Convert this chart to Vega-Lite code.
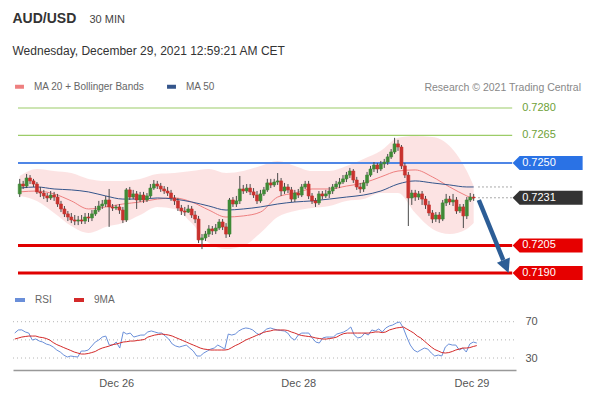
{
 "$schema": "https://vega.github.io/schema/vega-lite/v6.json",
 "background": "white",
 "padding": {"left": 12, "top": 12, "right": 4, "bottom": 6},
 "config": {"font": "Liberation Sans", "view": {"stroke": null}},
 "title": {"text": "30 MIN", "anchor": "start", "dx": 77, "offset": -13, "fontSize": 11, "fontWeight": "normal", "color": "#444444"},
 "datasets": {
  "candles": [
   {"i":0,"o":0.72331,"c":0.72385,"h":0.72413,"l":0.72314,"r":57.5,"m":50.9},
   {"i":1,"o":0.72385,"c":0.72374,"h":0.72402,"l":0.72358,"r":60.9,"m":52},
   {"i":2,"o":0.72374,"c":0.72418,"h":0.7244,"l":0.72363,"r":61,"m":53.1},
   {"i":3,"o":0.72418,"c":0.72402,"h":0.72434,"l":0.72385,"r":58.7,"m":53.7},
   {"i":4,"o":0.72402,"c":0.72385,"h":0.72413,"l":0.72369,"r":57.5,"m":54.2},
   {"i":5,"o":0.72385,"c":0.72342,"h":0.72396,"l":0.72331,"r":49.8,"m":54.2},
   {"i":6,"o":0.72342,"c":0.72336,"h":0.72369,"l":0.72314,"r":51,"m":54.2},
   {"i":7,"o":0.72336,"c":0.7232,"h":0.72353,"l":0.72303,"r":48.7,"m":53},
   {"i":8,"o":0.7232,"c":0.72309,"h":0.72336,"l":0.72287,"r":47.6,"m":52.5},
   {"i":9,"o":0.72309,"c":0.72325,"h":0.72347,"l":0.72298,"r":45.4,"m":51.5},
   {"i":10,"o":0.72325,"c":0.72314,"h":0.72342,"l":0.72293,"r":44.3,"m":49.8},
   {"i":11,"o":0.72314,"c":0.72276,"h":0.72331,"l":0.7226,"r":42.1,"m":47},
   {"i":12,"o":0.72276,"c":0.72249,"h":0.72293,"l":0.72232,"r":38.8,"m":44.8},
   {"i":13,"o":0.72249,"c":0.72222,"h":0.72265,"l":0.72205,"r":36.6,"m":43.2},
   {"i":14,"o":0.72222,"c":0.72205,"h":0.72238,"l":0.72183,"r":33.3,"m":41.5},
   {"i":15,"o":0.72205,"c":0.72189,"h":0.72227,"l":0.72172,"r":31.1,"m":39.9},
   {"i":16,"o":0.72189,"c":0.72183,"h":0.72216,"l":0.72161,"r":32.2,"m":38.3},
   {"i":17,"o":0.72183,"c":0.72189,"h":0.72211,"l":0.72161,"r":31.6,"m":36.6},
   {"i":18,"o":0.72189,"c":0.72183,"h":0.72216,"l":0.72167,"r":31.1,"m":35.5},
   {"i":19,"o":0.72183,"c":0.72205,"h":0.72227,"l":0.72167,"r":37.7,"m":34.4},
   {"i":20,"o":0.72205,"c":0.722,"h":0.72227,"l":0.72178,"r":37.7,"m":34.4},
   {"i":21,"o":0.722,"c":0.72222,"h":0.72243,"l":0.72183,"r":38.8,"m":35},
   {"i":22,"o":0.72222,"c":0.72243,"h":0.72265,"l":0.72211,"r":43.2,"m":36},
   {"i":23,"o":0.72243,"c":0.72265,"h":0.72293,"l":0.72232,"r":47.6,"m":37.2},
   {"i":24,"o":0.72265,"c":0.72276,"h":0.72298,"l":0.72249,"r":49.8,"m":39.4},
   {"i":25,"o":0.72276,"c":0.72298,"h":0.7232,"l":0.7226,"r":53.1,"m":41},
   {"i":26,"o":0.72298,"c":0.7226,"h":0.72358,"l":0.72151,"r":54.2,"m":42.1},
   {"i":27,"o":0.7226,"c":0.72254,"h":0.72276,"l":0.72238,"r":44.3,"m":43.2},
   {"i":28,"o":0.72254,"c":0.7226,"h":0.72271,"l":0.72243,"r":44.3,"m":44.8},
   {"i":29,"o":0.7226,"c":0.72243,"h":0.72276,"l":0.72222,"r":47.6,"m":45.4},
   {"i":30,"o":0.72243,"c":0.72189,"h":0.7226,"l":0.72172,"r":41,"m":46.5},
   {"i":31,"o":0.72189,"c":0.72353,"h":0.72363,"l":0.72178,"r":58.7,"m":47.6},
   {"i":32,"o":0.72353,"c":0.72314,"h":0.72369,"l":0.72298,"r":56.4,"m":48},
   {"i":33,"o":0.72314,"c":0.72331,"h":0.72353,"l":0.72303,"r":57.5,"m":48.7},
   {"i":34,"o":0.72331,"c":0.72298,"h":0.72347,"l":0.72249,"r":53.1,"m":48.7},
   {"i":35,"o":0.72298,"c":0.72325,"h":0.72342,"l":0.72287,"r":54.2,"m":49.3},
   {"i":36,"o":0.72325,"c":0.72298,"h":0.72342,"l":0.72282,"r":55.3,"m":49.8},
   {"i":37,"o":0.72298,"c":0.7232,"h":0.72336,"l":0.72287,"r":55.3,"m":50.4},
   {"i":38,"o":0.7232,"c":0.72363,"h":0.72385,"l":0.72309,"r":58.7,"m":53},
   {"i":39,"o":0.72363,"c":0.72385,"h":0.72407,"l":0.72353,"r":59.8,"m":54.2},
   {"i":40,"o":0.72385,"c":0.72374,"h":0.72402,"l":0.72358,"r":58.7,"m":55.3},
   {"i":41,"o":0.72374,"c":0.72358,"h":0.72391,"l":0.72342,"r":57.5,"m":55.9},
   {"i":42,"o":0.72358,"c":0.72347,"h":0.72374,"l":0.72331,"r":57.5,"m":56.4},
   {"i":43,"o":0.72347,"c":0.72336,"h":0.72369,"l":0.7232,"r":54.2,"m":55.9},
   {"i":44,"o":0.72336,"c":0.72309,"h":0.72353,"l":0.72293,"r":50.9,"m":55.3},
   {"i":45,"o":0.72309,"c":0.72293,"h":0.72325,"l":0.72271,"r":45.4,"m":54.2},
   {"i":46,"o":0.72293,"c":0.72254,"h":0.72309,"l":0.72238,"r":43.2,"m":52.5},
   {"i":47,"o":0.72254,"c":0.72238,"h":0.72271,"l":0.72216,"r":42.1,"m":50.9},
   {"i":48,"o":0.72238,"c":0.72232,"h":0.7226,"l":0.72211,"r":43.2,"m":49.3},
   {"i":49,"o":0.72232,"c":0.72249,"h":0.72271,"l":0.72227,"r":44.3,"m":47.6},
   {"i":50,"o":0.72249,"c":0.72216,"h":0.72265,"l":0.722,"r":41,"m":45.9},
   {"i":51,"o":0.72216,"c":0.72194,"h":0.72238,"l":0.72172,"r":37.7,"m":44.3},
   {"i":52,"o":0.72194,"c":0.7208,"h":0.72211,"l":0.72063,"r":32.2,"m":42.7},
   {"i":53,"o":0.7208,"c":0.72091,"h":0.72112,"l":0.7203,"r":32.2,"m":41},
   {"i":54,"o":0.72091,"c":0.72112,"h":0.72129,"l":0.72074,"r":35.5,"m":39.9},
   {"i":55,"o":0.72112,"c":0.7214,"h":0.72161,"l":0.72096,"r":37.7,"m":39.4},
   {"i":56,"o":0.7214,"c":0.72129,"h":0.72156,"l":0.72107,"r":39.9,"m":38.8},
   {"i":57,"o":0.72129,"c":0.72145,"h":0.72167,"l":0.72112,"r":41,"m":38.8},
   {"i":58,"o":0.72145,"c":0.72178,"h":0.72194,"l":0.72134,"r":44.3,"m":38.8},
   {"i":59,"o":0.72178,"c":0.72151,"h":0.72194,"l":0.72134,"r":42.1,"m":38.8},
   {"i":60,"o":0.72151,"c":0.72112,"h":0.72172,"l":0.72091,"r":39.9,"m":38.8},
   {"i":61,"o":0.72112,"c":0.72298,"h":0.72309,"l":0.72096,"r":56.4,"m":39.4},
   {"i":62,"o":0.72298,"c":0.72276,"h":0.72314,"l":0.7226,"r":55.3,"m":41.5},
   {"i":63,"o":0.72276,"c":0.72293,"h":0.7232,"l":0.7226,"r":56.4,"m":43.7},
   {"i":64,"o":0.72293,"c":0.72358,"h":0.72429,"l":0.72276,"r":59.8,"m":45.4},
   {"i":65,"o":0.72358,"c":0.72347,"h":0.7238,"l":0.72331,"r":62,"m":47.6},
   {"i":66,"o":0.72347,"c":0.72363,"h":0.72385,"l":0.72336,"r":63.1,"m":49.8},
   {"i":67,"o":0.72363,"c":0.72342,"h":0.72385,"l":0.72325,"r":62.5,"m":51.5},
   {"i":68,"o":0.72342,"c":0.72325,"h":0.72363,"l":0.72309,"r":60.9,"m":53.1},
   {"i":69,"o":0.72325,"c":0.72293,"h":0.72347,"l":0.72276,"r":57.5,"m":54.8},
   {"i":70,"o":0.72293,"c":0.72331,"h":0.72353,"l":0.72282,"r":55.3,"m":56.4},
   {"i":71,"o":0.72331,"c":0.72353,"h":0.72369,"l":0.7232,"r":58.7,"m":58.1},
   {"i":72,"o":0.72353,"c":0.72391,"h":0.72413,"l":0.72342,"r":62,"m":59.2},
   {"i":73,"o":0.72391,"c":0.7238,"h":0.72413,"l":0.72363,"r":63.1,"m":59.8},
   {"i":74,"o":0.7238,"c":0.72396,"h":0.72413,"l":0.72369,"r":62,"m":60.9},
   {"i":75,"o":0.72396,"c":0.72402,"h":0.72445,"l":0.7238,"r":60.9,"m":60.9},
   {"i":76,"o":0.72402,"c":0.72347,"h":0.72418,"l":0.7232,"r":60.3,"m":60.9},
   {"i":77,"o":0.72347,"c":0.72369,"h":0.72391,"l":0.72331,"r":59.8,"m":60.9},
   {"i":78,"o":0.72369,"c":0.72353,"h":0.72385,"l":0.72336,"r":57.5,"m":60.3},
   {"i":79,"o":0.72353,"c":0.72303,"h":0.72369,"l":0.72287,"r":52.1,"m":58.7},
   {"i":80,"o":0.72303,"c":0.72336,"h":0.72353,"l":0.72287,"r":49.8,"m":57.5},
   {"i":81,"o":0.72336,"c":0.72325,"h":0.72358,"l":0.72309,"r":55.3,"m":55.9},
   {"i":82,"o":0.72325,"c":0.72369,"h":0.72385,"l":0.72314,"r":57.5,"m":54.8},
   {"i":83,"o":0.72369,"c":0.72385,"h":0.72402,"l":0.72358,"r":57.5,"m":54.2},
   {"i":84,"o":0.72385,"c":0.7232,"h":0.72402,"l":0.72303,"r":57.5,"m":53.7},
   {"i":85,"o":0.7232,"c":0.72293,"h":0.72336,"l":0.72276,"r":52.1,"m":53.1},
   {"i":86,"o":0.72293,"c":0.72282,"h":0.72309,"l":0.7226,"r":47.6,"m":52.1},
   {"i":87,"o":0.72282,"c":0.72331,"h":0.72347,"l":0.72271,"r":46.5,"m":51.5},
   {"i":88,"o":0.72331,"c":0.7232,"h":0.72347,"l":0.72303,"r":52.1,"m":50.9},
   {"i":89,"o":0.7232,"c":0.72331,"h":0.72353,"l":0.72309,"r":53.1,"m":50.9},
   {"i":90,"o":0.72331,"c":0.72347,"h":0.72369,"l":0.72309,"r":53.1,"m":51.5},
   {"i":91,"o":0.72347,"c":0.72369,"h":0.72385,"l":0.72331,"r":53.1,"m":52.1},
   {"i":92,"o":0.72369,"c":0.72385,"h":0.72402,"l":0.72358,"r":56.4,"m":53.1},
   {"i":93,"o":0.72385,"c":0.72396,"h":0.72418,"l":0.72363,"r":57.5,"m":55.3},
   {"i":94,"o":0.72396,"c":0.72413,"h":0.72434,"l":0.72385,"r":58.7,"m":56.9},
   {"i":95,"o":0.72413,"c":0.72434,"h":0.72451,"l":0.72396,"r":60.9,"m":57.5},
   {"i":96,"o":0.72434,"c":0.72456,"h":0.72473,"l":0.72418,"r":64.2,"m":57.5},
   {"i":97,"o":0.72456,"c":0.72407,"h":0.72467,"l":0.72391,"r":55.3,"m":57.5},
   {"i":98,"o":0.72407,"c":0.72369,"h":0.72424,"l":0.72353,"r":52.1,"m":57.5},
   {"i":99,"o":0.72369,"c":0.72358,"h":0.72391,"l":0.72336,"r":53.1,"m":57.5},
   {"i":100,"o":0.72358,"c":0.72391,"h":0.72407,"l":0.72342,"r":57.5,"m":57.5},
   {"i":101,"o":0.72391,"c":0.72434,"h":0.72451,"l":0.72374,"r":55.3,"m":57.5},
   {"i":102,"o":0.72434,"c":0.72467,"h":0.72484,"l":0.72424,"r":60.9,"m":58},
   {"i":103,"o":0.72467,"c":0.72489,"h":0.72505,"l":0.72451,"r":59.8,"m":58.7},
   {"i":104,"o":0.72489,"c":0.72467,"h":0.725,"l":0.72445,"r":62,"m":58.7},
   {"i":105,"o":0.72467,"c":0.72495,"h":0.72511,"l":0.72456,"r":58.7,"m":58},
   {"i":106,"o":0.72495,"c":0.72505,"h":0.72522,"l":0.72473,"r":63.1,"m":58.7},
   {"i":107,"o":0.72505,"c":0.72533,"h":0.72549,"l":0.72489,"r":65.3,"m":60.9},
   {"i":108,"o":0.72533,"c":0.7256,"h":0.72576,"l":0.72522,"r":66.4,"m":62},
   {"i":109,"o":0.7256,"c":0.72604,"h":0.72637,"l":0.72549,"r":68.6,"m":63.1},
   {"i":110,"o":0.72604,"c":0.72587,"h":0.72626,"l":0.72566,"r":69.7,"m":63.6},
   {"i":111,"o":0.72587,"c":0.72484,"h":0.72598,"l":0.72467,"r":63.1,"m":64.2},
   {"i":112,"o":0.72484,"c":0.72434,"h":0.725,"l":0.72418,"r":53.1,"m":62},
   {"i":113,"o":0.72434,"c":0.72309,"h":0.72451,"l":0.72156,"r":44.3,"m":59.8},
   {"i":114,"o":0.72309,"c":0.72336,"h":0.72353,"l":0.72271,"r":38.8,"m":57.5},
   {"i":115,"o":0.72336,"c":0.72314,"h":0.72353,"l":0.72293,"r":36.6,"m":54.2},
   {"i":116,"o":0.72314,"c":0.72331,"h":0.72347,"l":0.72298,"r":38.8,"m":52.1},
   {"i":117,"o":0.72331,"c":0.72303,"h":0.72347,"l":0.72271,"r":41,"m":48.7},
   {"i":118,"o":0.72303,"c":0.72271,"h":0.7232,"l":0.72249,"r":39.9,"m":45.4},
   {"i":119,"o":0.72271,"c":0.72227,"h":0.72293,"l":0.72211,"r":35.5,"m":42.1},
   {"i":120,"o":0.72227,"c":0.72194,"h":0.72243,"l":0.72172,"r":32.2,"m":39.4},
   {"i":121,"o":0.72194,"c":0.72216,"h":0.72232,"l":0.72178,"r":33.3,"m":37.7},
   {"i":122,"o":0.72216,"c":0.72194,"h":0.72232,"l":0.72172,"r":32.2,"m":36},
   {"i":123,"o":0.72194,"c":0.72282,"h":0.72298,"l":0.72183,"r":42.1,"m":35.5},
   {"i":124,"o":0.72282,"c":0.72303,"h":0.72331,"l":0.72265,"r":45.4,"m":36},
   {"i":125,"o":0.72303,"c":0.72287,"h":0.7232,"l":0.72271,"r":44.3,"m":37.2},
   {"i":126,"o":0.72287,"c":0.72298,"h":0.72331,"l":0.72265,"r":44.3,"m":38.8},
   {"i":127,"o":0.72298,"c":0.72238,"h":0.72314,"l":0.72222,"r":38.8,"m":39.9},
   {"i":128,"o":0.72238,"c":0.7226,"h":0.72276,"l":0.72227,"r":41,"m":41},
   {"i":129,"o":0.7226,"c":0.72211,"h":0.72276,"l":0.72145,"r":36.6,"m":41},
   {"i":130,"o":0.72211,"c":0.72298,"h":0.72314,"l":0.72194,"r":45.4,"m":41.5},
   {"i":131,"o":0.72298,"c":0.72314,"h":0.72336,"l":0.72287,"r":47.6,"m":42.7},
   {"i":132,"o":0.72314,"c":0.72309,"h":0.72331,"l":0.72293,"r":46.5,"m":43.7}
  ],
  "bands": [
   {"i":0,"up":0.72429,"lo":0.7232,"ma20":0.72342,"ma50":0.72363},
   {"i":5,"up":0.72467,"lo":0.72293,"ma20":0.72347,"ma50":0.72369},
   {"i":10,"up":0.72456,"lo":0.72227,"ma20":0.72331,"ma50":0.72358},
   {"i":15,"up":0.72445,"lo":0.72156,"ma20":0.72293,"ma50":0.72353},
   {"i":20,"up":0.72413,"lo":0.72118,"ma20":0.72249,"ma50":0.72342},
   {"i":25,"up":0.72402,"lo":0.72151,"ma20":0.7226,"ma50":0.7232},
   {"i":30,"up":0.72402,"lo":0.72172,"ma20":0.72276,"ma50":0.72303},
   {"i":35,"up":0.72413,"lo":0.72216,"ma20":0.72287,"ma50":0.72303},
   {"i":40,"up":0.7244,"lo":0.7226,"ma20":0.72303,"ma50":0.72309},
   {"i":45,"up":0.72445,"lo":0.72249,"ma20":0.72309,"ma50":0.72303},
   {"i":50,"up":0.72456,"lo":0.72172,"ma20":0.72287,"ma50":0.72287},
   {"i":55,"up":0.72467,"lo":0.72063,"ma20":0.72243,"ma50":0.72265},
   {"i":60,"up":0.72445,"lo":0.7203,"ma20":0.72205,"ma50":0.72243},
   {"i":65,"up":0.72456,"lo":0.72047,"ma20":0.72211,"ma50":0.72249},
   {"i":70,"up":0.72484,"lo":0.72118,"ma20":0.72232,"ma50":0.7226},
   {"i":75,"up":0.72511,"lo":0.72205,"ma20":0.72314,"ma50":0.72276},
   {"i":80,"up":0.72484,"lo":0.72238,"ma20":0.72336,"ma50":0.72287},
   {"i":85,"up":0.72456,"lo":0.72254,"ma20":0.72358,"ma50":0.72293},
   {"i":90,"up":0.72456,"lo":0.72265,"ma20":0.72358,"ma50":0.72303},
   {"i":95,"up":0.72484,"lo":0.72293,"ma20":0.72374,"ma50":0.72314},
   {"i":100,"up":0.72522,"lo":0.72303,"ma20":0.72391,"ma50":0.72325},
   {"i":105,"up":0.72566,"lo":0.72336,"ma20":0.72424,"ma50":0.72347},
   {"i":110,"up":0.72637,"lo":0.72336,"ma20":0.72456,"ma50":0.72385},
   {"i":115,"up":0.72647,"lo":0.72227,"ma20":0.72462,"ma50":0.72402},
   {"i":120,"up":0.72642,"lo":0.7214,"ma20":0.72424,"ma50":0.72391},
   {"i":125,"up":0.72593,"lo":0.72112,"ma20":0.72369,"ma50":0.7238},
   {"i":130,"up":0.72456,"lo":0.7214,"ma20":0.7232,"ma50":0.72369},
   {"i":132,"up":0.72374,"lo":0.72172,"ma20":0.72303,"ma50":0.72369}
  ],
  "levels": [
   {"level":0.728,"label":"0.7280","kind":"target"},
   {"level":0.7265,"label":"0.7265","kind":"target"},
   {"level":0.725,"label":"0.7250","kind":"pivot"},
   {"level":0.7231,"label":"0.7231","kind":"last"},
   {"level":0.7205,"label":"0.7205","kind":"support"},
   {"level":0.719,"label":"0.7190","kind":"support"}
  ],
  "dots": [{"level":0.72369},{"level":0.7231}],
  "arrow": [{"i":133.5,"p":0.72298},{"i":140.6,"p":0.7197}],
  "head": [{"i":141.4,"p":0.71935}],
  "rsilevels": [{"lv":70},{"lv":50},{"lv":30}]
 },
 "vconcat": [
  {
   "title": {"text": "AUD/USD", "subtitle": "Wednesday, December 29, 2021 12:59:21 AM CET", "anchor": "start", "fontSize": 14, "fontWeight": "bold", "color": "#333333", "subtitleFontSize": 12, "subtitleColor": "#333333", "subtitlePadding": 20, "offset": 23},
   "spacing": 10,
   "resolve": {"scale": {"x": "independent", "y": "independent", "color": "independent"}, "legend": {"color": "independent"}},
   "vconcat": [
    {
     "width": 574,
     "height": 184,
     "title": {"text": "Research © 2021 Trading Central", "anchor": "end", "fontSize": 10.5, "fontWeight": "normal", "color": "#888888", "offset": -13, "dx": -6},
     "layer": [
      {
       "data": {"name": "bands"},
       "mark": {"type": "area", "color": "#f5a3a3", "opacity": 0.3, "interpolate": "monotone"},
       "encoding": {
        "x": {"field": "i", "type": "quantitative", "scale": {"domain": [-0.5, 163.5], "nice": false, "zero": false}, "axis": null},
        "y": {"field": "up", "type": "quantitative", "scale": {"domain": [0.71845, 0.72849], "nice": false, "zero": false}, "axis": null},
        "y2": {"field": "lo"}
       }
      },
      {
       "data": {"name": "bands"},
       "transform": [{"fold": ["ma20", "ma50"], "as": ["s", "v"]}],
       "mark": {"type": "line", "strokeWidth": 1, "interpolate": "monotone"},
       "encoding": {
        "x": {"field": "i", "type": "quantitative"},
        "y": {"field": "v", "type": "quantitative"},
        "color": {"field": "s", "type": "nominal", "scale": {"domain": ["ma20", "ma50"], "range": ["#ee7f7f", "#34558b"]},
         "legend": {"orient": "top", "direction": "horizontal", "title": null, "labelExpr": "datum.label == 'ma20' ? 'MA 20 + Bollinger Bands' : 'MA 50'", "symbolType": "stroke", "symbolStrokeWidth": 4, "symbolSize": 80, "labelFontSize": 10, "labelColor": "#666666", "offset": 4, "columnPadding": 14, "labelOffset": 8}}
       }
      },
      {
       "data": {"name": "levels"},
       "transform": [{"filter": "datum.kind == 'target'"}],
       "mark": {"type": "rule", "color": "#9ccc68", "strokeWidth": 1.2},
       "encoding": {"x": {"datum": -0.5, "type": "quantitative"}, "x2": {"datum": 143.2}, "y": {"field": "level", "type": "quantitative"}}
      },
      {
       "data": {"name": "levels"},
       "transform": [{"filter": "datum.kind == 'pivot'"}],
       "mark": {"type": "rule", "color": "#4f86e6", "strokeWidth": 2},
       "encoding": {"x": {"datum": -0.5, "type": "quantitative"}, "x2": {"datum": 143.2}, "y": {"field": "level", "type": "quantitative"}}
      },
      {
       "data": {"name": "levels"},
       "transform": [{"filter": "datum.kind == 'support'"}],
       "mark": {"type": "rule", "color": "#e00000", "strokeWidth": 3},
       "encoding": {"x": {"datum": -0.5, "type": "quantitative"}, "x2": {"datum": 143.2}, "y": {"field": "level", "type": "quantitative"}}
      },
      {
       "data": {"name": "dots"},
       "mark": {"type": "rule", "color": "#555555", "strokeWidth": 1, "strokeDash": [1, 3]},
       "encoding": {"x": {"datum": 133.4, "type": "quantitative"}, "x2": {"datum": 143.2}, "y": {"field": "level", "type": "quantitative"}}
      },
      {
       "data": {"name": "candles"},
       "mark": {"type": "rule", "color": "#4a4a4a", "strokeWidth": 1},
       "encoding": {"x": {"field": "i", "type": "quantitative"}, "y": {"field": "l", "type": "quantitative"}, "y2": {"field": "h"}}
      },
      {
       "data": {"name": "candles"},
       "mark": {"type": "bar", "width": 3, "strokeWidth": 0.6},
       "encoding": {
        "x": {"field": "i", "type": "quantitative"},
        "y": {"field": "o", "type": "quantitative"},
        "y2": {"field": "c"},
        "fill": {"condition": {"test": "datum.c >= datum.o", "value": "#3f8a36"}, "value": "#c8322e"},
        "stroke": {"condition": {"test": "datum.c >= datum.o", "value": "#3f8a36"}, "value": "#c8322e"}
       }
      },
      {
       "data": {"name": "arrow"},
       "mark": {"type": "line", "color": "#2c5d96", "strokeWidth": 4.5, "strokeCap": "butt"},
       "encoding": {"x": {"field": "i", "type": "quantitative"}, "y": {"field": "p", "type": "quantitative"}}
      },
      {
       "data": {"name": "head"},
       "mark": {"type": "point", "shape": "M-1,-1L1,-1L0,1Z", "size": 196, "angle": -22, "filled": true, "fill": "#2c5d96", "opacity": 1, "strokeWidth": 0},
       "encoding": {"x": {"field": "i", "type": "quantitative"}, "y": {"field": "p", "type": "quantitative"}}
      },
      {
       "data": {"name": "levels"},
       "transform": [{"filter": "datum.kind != 'target'"}],
       "mark": {"type": "point", "shape": "M-1,0L-0.8,-0.2L1,-0.2L1,0.2L-0.8,0.2Z", "size": 4900, "filled": true, "opacity": 1, "strokeWidth": 0},
       "encoding": {
        "x": {"datum": 153.5, "type": "quantitative"},
        "y": {"field": "level", "type": "quantitative"},
        "fill": {"field": "kind", "type": "nominal", "scale": {"domain": ["pivot", "last", "support"], "range": ["#2a72e5", "#333333", "#e60000"]}, "legend": null}
       }
      },
      {
       "data": {"name": "levels"},
       "mark": {"type": "text", "align": "left", "baseline": "middle", "fontSize": 11},
       "encoding": {
        "x": {"datum": 146.1, "type": "quantitative"},
        "y": {"field": "level", "type": "quantitative"},
        "text": {"field": "label"},
        "color": {"condition": {"test": "datum.kind == 'target'", "value": "#6e9f38"}, "value": "#ffffff"}
       }
      }
     ]
    },
    {
     "width": 503,
     "height": 60,
     "layer": [
      {
       "data": {"name": "rsilevels"},
       "mark": {"type": "rule", "color": "#b5b5b5", "strokeWidth": 1, "strokeDash": [1, 3]},
       "encoding": {
        "x": {"datum": -0.5, "type": "quantitative", "scale": {"domain": [-0.5, 143.2], "nice": false, "zero": false}},
        "x2": {"datum": 143.2},
        "y": {"field": "lv", "type": "quantitative", "scale": {"domain": [16.8, 82.9], "nice": false, "zero": false},
         "axis": {"orient": "right", "values": [30, 70], "domain": false, "ticks": false, "grid": false, "labelColor": "#555555", "labelFontSize": 11, "labelPadding": 9, "title": null}}
       }
      },
      {
       "data": {"name": "candles"},
       "transform": [{"fold": ["r", "m"], "as": ["s", "v"]}],
       "mark": {"type": "line", "strokeWidth": 1},
       "encoding": {
        "x": {"field": "i", "type": "quantitative",
         "axis": {"values": [29, 81, 130.5], "labelExpr": "datum.value < 50 ? 'Dec 26' : (datum.value < 100 ? 'Dec 28' : 'Dec 29')", "ticks": false, "grid": false, "domainColor": "#999999", "domainWidth": 1.5, "labelColor": "#555555", "labelFontSize": 11, "labelPadding": 7, "title": null}},
        "y": {"field": "v", "type": "quantitative"},
        "color": {"field": "s", "type": "nominal", "scale": {"domain": ["r", "m"], "range": ["#6a8fd9", "#d42a2a"]},
         "legend": {"orient": "top", "direction": "horizontal", "title": null, "labelExpr": "datum.label == 'r' ? 'RSI' : '9MA'", "symbolType": "stroke", "symbolStrokeWidth": 4, "symbolSize": 100, "labelFontSize": 10, "labelColor": "#666666", "offset": 2, "columnPadding": 14, "labelOffset": 8}}
       }
      }
     ]
    }
   ]
  }
 ]
}
